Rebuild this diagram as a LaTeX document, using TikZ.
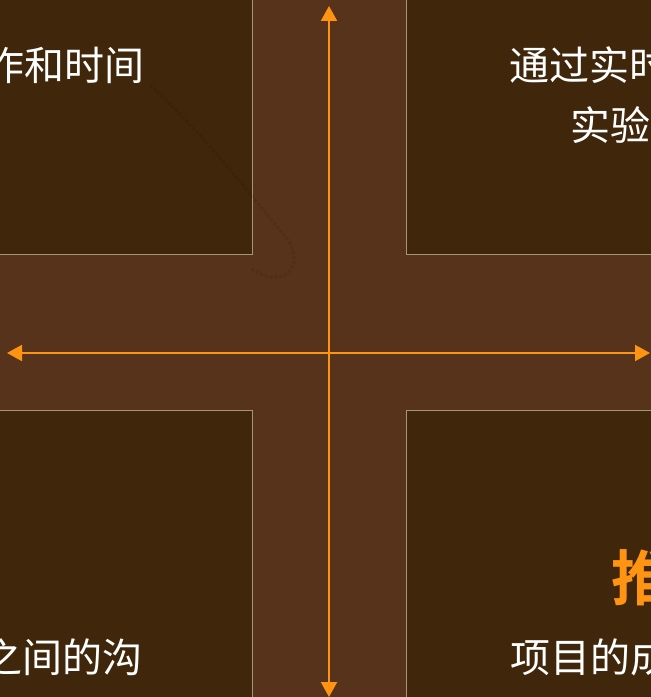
\documentclass[tikz,border=0pt]{standalone}
\usepackage{fontspec}
\newfontfamily\cjk{Noto Sans CJK SC}
\newfontfamily\cjkbold{Noto Sans CJK SC Bold}
\usetikzlibrary{arrows.meta}
\definecolor{bgbrown}{HTML}{56331A}
\definecolor{boxbrown}{HTML}{40260A}
\definecolor{boxline}{HTML}{A89578}
\definecolor{accent}{HTML}{FF9412}
\begin{document}
\begin{tikzpicture}[x=1bp,y=-1bp,
  quad/.style={fill=boxbrown,draw=boxline,line width=1bp},
  axis/.style={draw=accent,line width=2bp,-{Triangle[length=15bp,width=16bp]}},
  txt/.style={text=white,font=\cjk\fontsize{40bp}{44bp}\selectfont,inner sep=0pt},
  hl/.style={text=accent,font=\cjkbold\fontsize{60bp}{66bp}\selectfont,inner sep=0pt}]
\useasboundingbox (0,0) rectangle (651,697);
\clip (0,0) rectangle (651,697);
\fill[bgbrown] (0,0) rectangle (651,697);
% quadrant boxes
\draw[quad] (-20,-20) rectangle (252,254);
\draw[quad] (406,-20) rectangle (680,254);
\draw[quad] (-20,410) rectangle (252,720);
\draw[quad] (406,410) rectangle (680,720);
% faint decorative trace
\draw[black,opacity=0.08,line width=3bp,dash pattern=on 3bp off 2bp]
  (150,85) .. controls (200,130) and (255,200) .. (288,240)
  .. controls (305,265) and (285,292) .. (250,268);
% axes
\coordinate (c) at (329,353);
\coordinate (top) at (329,6);
\coordinate (bot) at (329,697);
\coordinate (lft) at (7,353);
\coordinate (rgt) at (650,353);
\draw[axis] (c) -- (top);
\draw[axis] (c) -- (bot);
\draw[axis] (c) -- (lft);
\draw[axis] (c) -- (rgt);
% texts
\node[txt,anchor=base east] (tl) at (145,81) {作和时间};
\node[txt,anchor=base west] (tr1) at (509,81) {通过实时};
\node[txt,anchor=base west] (tr2) at (570,140) {实验};
\node[txt,anchor=base east] (bl) at (143,672) {之间的沟};
\node[hl,anchor=base west] (br0) at (611,600) {推};
\node[txt,anchor=base west] (br1) at (510,672) {项目的成};
\end{tikzpicture}
\end{document}
